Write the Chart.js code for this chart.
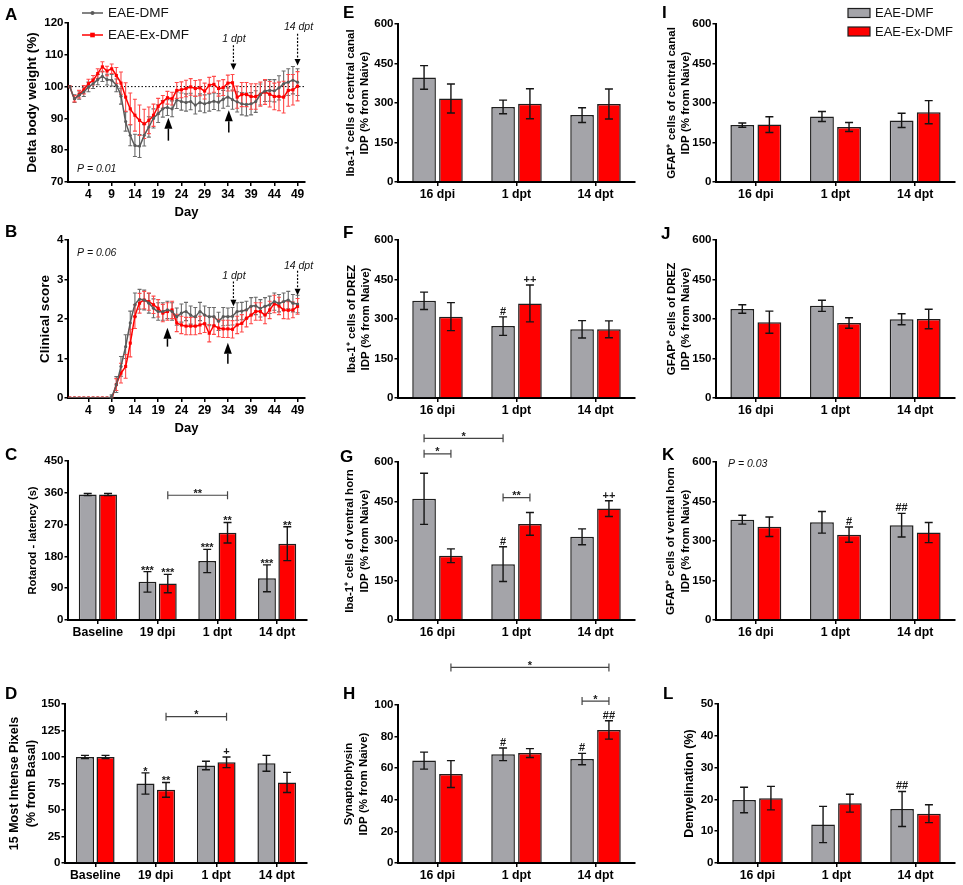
<!DOCTYPE html>
<html><head><meta charset="utf-8">
<script src="https://cdn.jsdelivr.net/npm/chart.js@4.4.1/dist/chart.umd.min.js"></script>
<style>
html,body{margin:0;padding:0;background:#fff;}
#wrap{position:relative;width:963px;height:885px;overflow:hidden;background:#fff;}
canvas{position:absolute;}
</style></head><body><div id="wrap"></div>
<script>
// ---------------- DATA ----------------
const days = [0,1,2,3,4,5,6,7,8,9,10,11,12,13,14,15,16,17,18,19,20,21,22,23,24,25,26,27,28,29,30,31,32,33,34,35,36,37,38,39,40,41,42,43,44,45,46,47,48,49];
const dayTicks = [4,9,14,19,24,29,34,39,44,49];
const seriesNames = ['EAE-DMF','EAE-Ex-DMF'];

const weightDMF = [100,96.2,97.3,98.3,99.9,100.9,102.2,103.2,102.2,102.0,100.4,97.0,89.0,84.7,81.5,81.3,84.7,87.3,90.0,91.5,93.0,93.4,93.0,95.7,95.3,95.0,95.3,94.2,95.0,94.6,95.0,95.4,95.1,96.0,96.7,95.9,95.2,94.6,94.4,94.6,95.3,97.5,98.6,98.8,98.7,99.6,100.9,101.4,102.0,101.4];
const weightDMFErr = [0,1.2,1.3,1.4,1.5,1.5,1.6,1.6,1.7,1.8,2.0,2.5,3.0,3.3,3.5,3.6,3.4,3.2,3.0,2.8,2.6,2.5,2.5,2.6,2.7,2.7,2.6,2.8,2.7,2.8,2.7,2.6,2.7,2.8,2.9,3.0,3.2,3.5,3.6,3.5,3.4,3.3,3.3,3.4,3.5,3.8,4.0,4.2,4.3,4.2];
const weightExDMF = [100,96.2,97.6,99.0,100.9,102.0,104.1,106.2,104.9,105.6,103.5,101.1,96.7,93.0,91.0,89.4,88.3,89.4,91.0,93.8,95.2,96.5,96.2,98.8,99.0,99.4,99.9,99.4,99.6,98.6,100.4,100.7,99.4,99.7,101.1,101.2,96.7,97.5,97.5,96.9,96.9,97.6,98.3,97.6,96.9,96.9,96.7,98.8,99.0,100.1];
const weightExDMFErr = [0,1.0,1.2,1.3,1.4,1.5,1.5,1.6,1.5,1.5,2.5,3.5,4.5,5.0,5.0,4.8,4.6,4.2,3.5,2.5,2.0,2.0,2.0,2.5,2.5,2.6,2.6,2.5,2.5,2.5,2.5,2.5,2.4,2.5,2.5,2.6,3.5,3.8,3.8,4.0,4.0,3.8,3.9,4.0,4.2,4.5,5.0,5.0,4.8,4.6];

const scoreDMF = [0,0,0,0,0,0,0,0,0,0.04,0.34,0.8,1.3,1.9,2.36,2.5,2.48,2.4,2.27,2.19,2.19,2.23,2.19,2.06,2.15,2.19,2.1,2.06,2.19,2.1,2.06,2.06,1.94,2.06,2.06,2.07,2.19,2.2,2.23,2.32,2.33,2.27,2.32,2.36,2.44,2.4,2.44,2.48,2.4,2.38];
const scoreDMFErr = [0,0,0,0,0,0,0,0,0,0.04,0.2,0.25,0.3,0.3,0.3,0.25,0.25,0.25,0.24,0.22,0.22,0.22,0.22,0.22,0.23,0.23,0.23,0.23,0.23,0.23,0.23,0.23,0.23,0.23,0.22,0.22,0.22,0.22,0.22,0.22,0.22,0.22,0.22,0.22,0.22,0.22,0.22,0.22,0.22,0.22];
const scoreExDMF = [0,0,0,0,0,0,0,0,0,0,0.34,0.63,0.8,1.39,2.06,2.4,2.48,2.44,2.36,2.27,2.15,2.19,2.23,1.9,1.85,1.82,1.82,1.82,1.85,1.88,1.64,1.83,1.77,1.75,1.75,1.74,1.85,1.89,2.02,2.1,2.19,2.19,2.1,2.23,2.38,2.33,2.23,2.22,2.23,2.32];
const scoreExDMFErr = [0,0,0,0,0,0,0,0,0,0,0.15,0.25,0.3,0.35,0.3,0.25,0.22,0.22,0.22,0.22,0.22,0.22,0.22,0.22,0.22,0.22,0.22,0.22,0.22,0.22,0.22,0.22,0.22,0.22,0.22,0.22,0.22,0.22,0.22,0.22,0.22,0.22,0.22,0.22,0.22,0.22,0.22,0.22,0.2,0.2];

const catsC = ['Baseline','19 dpi','1 dpt','14 dpt'];
const catsE = ['16 dpi','1 dpt','14 dpt'];

const rotarodDMF = [355,108,167,118];
const rotarodDMFErr = [3,29,33,38];
const rotarodExDMF = [355,103,247,216];
const rotarodExDMFErr = [3,26,29,48];

const pixelsDMF = [100,75,92,94];
const pixelsDMFErr = [1.5,10,4,7.5];
const pixelsExDMF = [100,69,95,76];
const pixelsExDMFErr = [1.5,7,5,9.5];

const ibaCanalDMF = [397,285,254];
const ibaCanalDMFErr = [45,26,28];
const ibaCanalExDMF = [317,297,296];
const ibaCanalExDMFErr = [55,57,57];

const ibaDrezDMF = [369,273,261];
const ibaDrezDMFErr = [33,35,33];
const ibaDrezExDMF = [309,359,261];
const ibaDrezExDMFErr = [53,70,32];

const ibaHornDMF = [460,212,316];
const ibaHornDMFErr = [97,66,30];
const ibaHornExDMF = [244,365,423];
const ibaHornExDMFErr = [26,43,30];

const synDMF = [64.8,68.8,65.8];
const synDMFErr = [5.4,4,3.6];
const synExDMF = [56.3,69.6,84.2];
const synExDMFErr = [8.5,2.8,5.8];

const gfapCanalDMF = [216,249,234];
const gfapCanalDMFErr = [8,19,27];
const gfapCanalExDMF = [218,209,265];
const gfapCanalExDMFErr = [30,17,44];

const gfapDrezDMF = [338,350,299];
const gfapDrezDMFErr = [16,21,21];
const gfapDrezExDMF = [288,285,300];
const gfapDrezExDMFErr = [42,20,37];

const gfapHornDMF = [381,371,360];
const gfapHornDMFErr = [17,41,45];
const gfapHornExDMF = [354,324,332];
const gfapHornExDMFErr = [37,29,38];

const demyDMF = [19.8,12.1,17];
const demyDMFErr = [4,5.7,5.5];
const demyExDMF = [20.4,18.8,15.5];
const demyExDMFErr = [3.7,2.8,2.8];

// significance marks: [category, series, text]
const sigC = [[1,0,'***'],[1,1,'***'],[2,0,'***'],[2,1,'**'],[3,0,'***'],[3,1,'**']];
const sigD = [[1,0,'*'],[1,1,'**'],[2,1,'+']];
const sigF = [[1,0,'#'],[1,1,'++']];
const sigG = [[1,0,'#'],[2,1,'++']];
const sigH = [[1,0,'#'],[2,0,'#'],[2,1,'##']];
const sigK = [[1,1,'#'],[2,0,'##']];
const sigL = [[2,0,'##']];
// comparison brackets: from [cat,series] to [cat,series] at value level
const bracketsC = [{from:[1,1],to:[2,1],level:353,text:'**'}];
const bracketsD = [{from:[1,1],to:[2,1],level:138,text:'*'}];
const bracketsG = [{from:[0,0],to:[1,0],level:690,text:'*'},{from:[0,0],to:[0,1],level:631,text:'*'},{from:[1,0],to:[1,1],level:465,text:'**'}];
const bracketsH = [{from:[0,1],to:[2,1],level:123.8,text:'*'},{from:[2,0],to:[2,1],level:102.5,text:'*'}];

// ---------------- STYLE ----------------
const FONT = '"Liberation Sans", Arial, Helvetica, sans-serif';
const GRAY_FILL = '#a4a4a9', RED_FILL = '#ff0000', EDGE = '#1e1e1e';
const GRAY_LINE = '#5a5a5a', RED_LINE = '#ff0000';
const EXTRAS = new WeakMap();

function fnt(style, size){ return style + ' ' + size + 'px ' + FONT; }

function drawArrow(ctx, x, yTail, yTip, dashed){
  const headLen = dashed ? 6.5 : 11, headW = dashed ? 6 : 8;
  const dir = yTip > yTail ? 1 : -1;
  ctx.save(); ctx.strokeStyle = '#000'; ctx.fillStyle = '#000';
  ctx.lineWidth = dashed ? 1.2 : 1.5;
  if (dashed) ctx.setLineDash([2, 1.6]);
  ctx.beginPath(); ctx.moveTo(x, yTail); ctx.lineTo(x, yTip - dir*headLen); ctx.stroke();
  ctx.setLineDash([]);
  ctx.beginPath(); ctx.moveTo(x, yTip); ctx.lineTo(x - headW/2, yTip - dir*headLen); ctx.lineTo(x + headW/2, yTip - dir*headLen); ctx.closePath(); ctx.fill();
  ctx.restore();
}

const extrasPlugin = {
  id: 'extras',
  beforeDatasetsDraw(chart){
    const s = EXTRAS.get(chart.canvas); if (!s) return;
    const ctx = chart.ctx, ys = chart.scales.y, ca = chart.chartArea;
    if (s.hline !== undefined){
      const y = ys.getPixelForValue(s.hline);
      ctx.save(); ctx.strokeStyle = '#000'; ctx.lineWidth = 1; ctx.setLineDash([1.5, 2]);
      ctx.beginPath(); ctx.moveTo(ca.left, y); ctx.lineTo(ca.right, y); ctx.stroke(); ctx.restore();
    }
    if (s.lineErr){
      s.lineErr.forEach((errs, di) => {
        const meta = chart.getDatasetMeta(di), ds = chart.data.datasets[di];
        ctx.save(); ctx.strokeStyle = s.lineErrColors[di]; ctx.lineWidth = 1.1;
        meta.data.forEach((pt, j) => {
          const v = ds.data[j].y, e = errs[j]; if (!e) return;
          const y1 = ys.getPixelForValue(v + e), y2 = ys.getPixelForValue(v - e);
          ctx.beginPath();
          ctx.moveTo(pt.x, y1); ctx.lineTo(pt.x, y2);
          ctx.moveTo(pt.x - 2, y1); ctx.lineTo(pt.x + 2, y1);
          ctx.moveTo(pt.x - 2, y2); ctx.lineTo(pt.x + 2, y2);
          ctx.stroke();
        });
        ctx.restore();
      });
    }
  },
  afterDatasetsDraw(chart){
    const s = EXTRAS.get(chart.canvas); if (!s) return;
    const ctx = chart.ctx, ys = chart.scales.y, xs = chart.scales.x;
    const px = v => v - s.cl, py = v => v - s.ct;
    const barX = (c, d) => chart.getDatasetMeta(d).data[c].x;
    const errTop = (c, d) => ys.getPixelForValue(chart.data.datasets[d].data[c] + s.barErr[d][c]);
    if (s.barErr){
      ctx.save(); ctx.strokeStyle = '#151515'; ctx.lineWidth = 1.4;
      s.barErr.forEach((errs, d) => {
        chart.getDatasetMeta(d).data.forEach((el, c) => {
          const v = chart.data.datasets[d].data[c], e = errs[c];
          const y1 = ys.getPixelForValue(v + e), y2 = ys.getPixelForValue(v - e);
          ctx.beginPath();
          ctx.moveTo(el.x, y1); ctx.lineTo(el.x, y2);
          ctx.moveTo(el.x - 4, y1); ctx.lineTo(el.x + 4, y1);
          ctx.moveTo(el.x - 4, y2); ctx.lineTo(el.x + 4, y2);
          ctx.stroke();
        });
      });
      ctx.restore();
    }
    ctx.save(); ctx.fillStyle = '#1a1a1a'; ctx.textAlign = 'center'; ctx.textBaseline = 'alphabetic';
    ctx.font = fnt('bold', 11);
    (s.sig || []).forEach(([c, d, t]) => {
      const yt = errTop(c, d);
      ctx.fillText(t, barX(c, d), t.includes('*') ? yt + 2 : yt - 2);
    });
    (s.brackets || []).forEach(b => {
      const x1 = barX(b.from[0], b.from[1]), x2 = barX(b.to[0], b.to[1]);
      const y = ys.getPixelForValue(b.level);
      ctx.save(); ctx.strokeStyle = '#444'; ctx.lineWidth = 1.2;
      ctx.beginPath(); ctx.moveTo(x1, y); ctx.lineTo(x2, y);
      ctx.moveTo(x1, y - 4); ctx.lineTo(x1, y + 4);
      ctx.moveTo(x2, y - 4); ctx.lineTo(x2, y + 4);
      ctx.stroke(); ctx.restore();
      ctx.fillText(b.text, (x1 + x2) / 2, y + 1.5);
    });
    ctx.restore();
    (s.arrows || []).forEach(a => {
      drawArrow(ctx, xs.getPixelForValue(a.x), ys.getPixelForValue(a.tail), ys.getPixelForValue(a.tip), a.dashed);
    });
    (s.texts || []).forEach(t => {
      ctx.save(); ctx.fillStyle = '#111'; ctx.font = fnt(t.style, t.size);
      ctx.textAlign = t.align || 'left'; ctx.textBaseline = 'middle';
      let x, y;
      if (t.data){ x = xs.getPixelForValue(t.x); y = ys.getPixelForValue(t.y); }
      else { x = px(t.x); y = py(t.y); }
      ctx.fillText(t.text, x, y); ctx.restore();
    });
    if (s.lineLegend){
      const L = s.lineLegend;
      chart.data.datasets.forEach((ds, i) => {
        const y = py(L.y[i]), x0 = px(L.x), x1 = x0 + 21, xm = (x0 + x1) / 2;
        ctx.save(); ctx.strokeStyle = ds.borderColor; ctx.fillStyle = ds.borderColor; ctx.lineWidth = 1.5;
        ctx.beginPath(); ctx.moveTo(x0, y); ctx.lineTo(x1, y); ctx.stroke();
        if (ds.pointStyle === 'rect') ctx.fillRect(xm - 2.3, y - 2.3, 4.6, 4.6);
        else { ctx.beginPath(); ctx.arc(xm, y, 2, 0, Math.PI * 2); ctx.fill(); }
        ctx.fillStyle = '#111'; ctx.font = fnt('', 13.5); ctx.textBaseline = 'middle'; ctx.textAlign = 'left';
        ctx.fillText(ds.label, x1 + 5, y + 0.5);
        ctx.restore();
      });
    }
    if (s.barLegend){
      const L = s.barLegend;
      chart.data.datasets.forEach((ds, i) => {
        const y = py(L.y[i]), x0 = px(L.x);
        ctx.save(); ctx.fillStyle = ds.backgroundColor; ctx.strokeStyle = EDGE; ctx.lineWidth = 1.2;
        ctx.fillRect(x0, y - 4.5, 22, 9); ctx.strokeRect(x0, y - 4.5, 22, 9);
        ctx.fillStyle = '#111'; ctx.font = fnt('', 13); ctx.textBaseline = 'middle'; ctx.textAlign = 'left';
        ctx.fillText(ds.label, x0 + 27, y + 0.5);
        ctx.restore();
      });
    }
    if (s.letter){
      ctx.save(); ctx.fillStyle = '#000'; ctx.font = fnt('bold', 17); ctx.textAlign = 'left'; ctx.textBaseline = 'alphabetic';
      ctx.fillText(s.letter[0], px(s.letter[1]), py(s.letter[2])); ctx.restore();
    }
  }
};
Chart.register(extrasPlugin);

const wrap = document.getElementById('wrap');

function yAxis(s){
  const lh = s.titleSize * s.titleLH;
  return {
    min: s.yMin, max: s.yMax,
    ticks: {stepSize: s.step, color: '#000', font: {family: FONT, size: 11.5, weight: 'bold'}, padding: 1},
    grid: {display: true, drawOnChartArea: false, drawTicks: true, tickLength: 3.5, color: '#000', lineWidth: 1.5},
    border: {display: true, color: '#000', width: 2},
    title: {display: true, text: s.title, color: '#000',
      font: {family: FONT, size: s.titleSize, weight: 'bold', lineHeight: s.titleLH},
      padding: {top: s.titleX - s.cl - lh / 2, bottom: 0}},
    afterFit: sc => { sc.width = s.plot.l - s.cl; }
  };
}

function mount(s, config){
  const c = document.createElement('canvas');
  c.width = s.cr - s.cl; c.height = s.plot.b - s.ct + s.xh;
  c.style.left = s.cl + 'px'; c.style.top = s.ct + 'px';
  wrap.appendChild(c);
  EXTRAS.set(c, s);
  config.options.responsive = false;
  config.options.animation = false;
  config.options.layout = {padding: {left: 0, top: s.plot.t - s.ct, right: s.cr - s.plot.r, bottom: 0}};
  config.options.plugins = {legend: {display: false}, tooltip: {enabled: false}};
  new Chart(c, config);
}

function linePanel(s){
  const mk = (vals) => days.map((d, i) => ({x: d, y: vals[i]}));
  mount(s, {
    type: 'line',
    data: {datasets: [
      {label: seriesNames[0], data: mk(s.gray), borderColor: GRAY_LINE, backgroundColor: GRAY_LINE, borderWidth: 1.5,
       pointRadius: 1.6, pointStyle: 'circle', pointBackgroundColor: GRAY_LINE, pointBorderWidth: 0, tension: 0.15},
      {label: seriesNames[1], data: mk(s.red), borderColor: RED_LINE, backgroundColor: RED_LINE, borderWidth: 1.5,
       pointRadius: 2.2, pointStyle: 'rect', pointBackgroundColor: RED_LINE, pointBorderWidth: 0, tension: 0.15}
    ]},
    options: {
      scales: {
        x: {type: 'linear', min: -0.4, max: 50.6,
          afterBuildTicks: sc => { sc.ticks = dayTicks.map(v => ({value: v})); },
          ticks: {color: '#000', font: {family: FONT, size: 12, weight: 'bold'}, padding: 1, autoSkip: false, maxRotation: 0},
          grid: {display: true, drawOnChartArea: false, tickLength: 4, color: '#000', lineWidth: 1.5},
          border: {display: true, color: '#000', width: 2},
          title: {display: true, text: 'Day', color: '#000', font: {family: FONT, size: 13, weight: 'bold', lineHeight: 1.2}, padding: {top: 0, bottom: 0}},
          afterFit: sc => { sc.height = s.xh; }
        },
        y: yAxis(s)
      }
    }
  });
}

function barPanel(s){
  mount(s, {
    type: 'bar',
    data: {labels: s.cats, datasets: [
      {label: seriesNames[0], data: s.gray, backgroundColor: GRAY_FILL, borderColor: EDGE, borderWidth: 1.5, categoryPercentage: 0.68, barPercentage: 0.88},
      {label: seriesNames[1], data: s.red, backgroundColor: RED_FILL, borderColor: EDGE, borderWidth: 1.5, categoryPercentage: 0.68, barPercentage: 0.88}
    ]},
    options: {
      scales: {
        x: {type: 'category', offset: true,
          ticks: {color: '#000', font: {family: FONT, size: 12.3, weight: 'bold'}, padding: 1, autoSkip: false, maxRotation: 0},
          grid: {display: true, drawOnChartArea: false, offset: false, tickLength: 4, color: '#000', lineWidth: 1.5},
          border: {display: true, color: '#000', width: 2},
          afterFit: sc => { sc.height = s.xh; }
        },
        y: yAxis(s)
      }
    }
  });
}

const IDP = 'IDP (% from Naive)';

// A
linePanel({cl: 0, ct: 0, cr: 320, plot: {l: 68, t: 23, r: 305, b: 182}, xh: 38,
  yMin: 70, yMax: 120, step: 10, title: 'Delta body weight (%)', titleSize: 13.5, titleLH: 1.25, titleX: 32,
  gray: weightDMF, red: weightExDMF,
  lineErr: [weightDMFErr, weightExDMFErr], lineErrColors: ['#6a6a6a', '#ff4a4a'],
  hline: 100,
  arrows: [{x: 21.2, tail: 83, tip: 90.2}, {x: 34.2, tail: 85.6, tip: 92.6},
           {x: 35.2, tail: 113, tip: 105.2, dashed: true}, {x: 49, tail: 116.6, tip: 106.6, dashed: true}],
  texts: [{data: true, x: 35.3, y: 114.9, text: '1 dpt', style: 'italic', size: 10.5, align: 'center'},
          {data: true, x: 49.2, y: 118.8, text: '14 dpt', style: 'italic', size: 10.5, align: 'center'},
          {x: 77, y: 169, text: 'P = 0.01', style: 'italic', size: 10.5}],
  lineLegend: {x: 82, y: [13, 35]},
  letter: ['A', 5, 20]});

// B
linePanel({cl: 0, ct: 220, cr: 320, plot: {l: 68, t: 240, r: 305, b: 398}, xh: 38,
  yMin: 0, yMax: 4, step: 1, title: 'Clinical score', titleSize: 13.5, titleLH: 1.25, titleX: 45,
  gray: scoreDMF, red: scoreExDMF,
  lineErr: [scoreDMFErr, scoreExDMFErr], lineErrColors: ['#6a6a6a', '#ff4a4a'],
  arrows: [{x: 21, tail: 1.3, tip: 1.78}, {x: 34, tail: 0.87, tip: 1.4},
           {x: 35.2, tail: 2.95, tip: 2.32, dashed: true}, {x: 49, tail: 3.22, tip: 2.6, dashed: true}],
  texts: [{data: true, x: 35.3, y: 3.09, text: '1 dpt', style: 'italic', size: 10.5, align: 'center'},
          {data: true, x: 49.2, y: 3.33, text: '14 dpt', style: 'italic', size: 10.5, align: 'center'},
          {x: 77, y: 253, text: 'P = 0.06', style: 'italic', size: 10.5}],
  letter: ['B', 5, 237]});

// C
barPanel({cl: 0, ct: 436, cr: 320, plot: {l: 68, t: 461, r: 307, b: 620}, xh: 22,
  yMin: 0, yMax: 450, step: 90, title: 'Rotarod - latency (s)', titleSize: 11.2, titleLH: 1.25, titleX: 33,
  cats: catsC, gray: rotarodDMF, red: rotarodExDMF, barErr: [rotarodDMFErr, rotarodExDMFErr],
  sig: sigC, brackets: bracketsC, letter: ['C', 5, 460]});

// D
barPanel({cl: 0, ct: 642, cr: 320, plot: {l: 65, t: 704, r: 307, b: 863}, xh: 22,
  yMin: 0, yMax: 150, step: 25, title: ['15 Most Intense Pixels', '(% from Basal)'], titleSize: 12.5, titleLH: 1.36, titleX: 15,
  cats: catsC, gray: pixelsDMF, red: pixelsExDMF, barErr: [pixelsDMFErr, pixelsExDMFErr],
  sig: sigD, brackets: bracketsD, letter: ['D', 5, 699]});

// E
barPanel({cl: 322, ct: 0, cr: 642, plot: {l: 398, t: 24, r: 635, b: 182}, xh: 22,
  yMin: 0, yMax: 600, step: 150, title: ['Iba-1\u207A cells of central canal', IDP], titleSize: 11.5, titleLH: 1.25, titleX: 350.7,
  cats: catsE, gray: ibaCanalDMF, red: ibaCanalExDMF, barErr: [ibaCanalDMFErr, ibaCanalExDMFErr],
  letter: ['E', 343, 18]});

// F
barPanel({cl: 322, ct: 204, cr: 642, plot: {l: 398, t: 240, r: 635, b: 398}, xh: 22,
  yMin: 0, yMax: 600, step: 150, title: ['Iba-1\u207A cells of DREZ', IDP], titleSize: 11.5, titleLH: 1.25, titleX: 351.7,
  cats: catsE, gray: ibaDrezDMF, red: ibaDrezExDMF, barErr: [ibaDrezDMFErr, ibaDrezExDMFErr],
  sig: sigF, letter: ['F', 343, 238]});

// G
barPanel({cl: 322, ct: 420, cr: 642, plot: {l: 398, t: 462, r: 635, b: 620}, xh: 22,
  yMin: 0, yMax: 600, step: 150, title: ['Iba-1\u207A cells of ventral horn', IDP], titleSize: 11.5, titleLH: 1.25, titleX: 350,
  cats: catsE, gray: ibaHornDMF, red: ibaHornExDMF, barErr: [ibaHornDMFErr, ibaHornExDMFErr],
  sig: sigG, brackets: bracketsG, letter: ['G', 340, 462]});

// H
barPanel({cl: 322, ct: 642, cr: 642, plot: {l: 398, t: 705, r: 635, b: 863}, xh: 22,
  yMin: 0, yMax: 100, step: 20, title: ['Synaptophysin', IDP], titleSize: 11.5, titleLH: 1.25, titleX: 349,
  cats: catsE, gray: synDMF, red: synExDMF, barErr: [synDMFErr, synExDMFErr],
  sig: sigH, brackets: bracketsH, letter: ['H', 343, 699]});

// I
barPanel({cl: 642, ct: 0, cr: 963, plot: {l: 716, t: 24, r: 955, b: 182}, xh: 22,
  yMin: 0, yMax: 600, step: 150, title: ['GFAP\u207A cells of central canal', IDP], titleSize: 11.5, titleLH: 1.25, titleX: 671.5,
  cats: catsE, gray: gfapCanalDMF, red: gfapCanalExDMF, barErr: [gfapCanalDMFErr, gfapCanalExDMFErr],
  barLegend: {x: 848, y: [13, 31.5]}, letter: ['I', 662, 18]});

// J
barPanel({cl: 642, ct: 204, cr: 963, plot: {l: 716, t: 240, r: 955, b: 398}, xh: 22,
  yMin: 0, yMax: 600, step: 150, title: ['GFAP\u207A cells of DREZ', IDP], titleSize: 11.5, titleLH: 1.25, titleX: 671.5,
  cats: catsE, gray: gfapDrezDMF, red: gfapDrezExDMF, barErr: [gfapDrezDMFErr, gfapDrezExDMFErr],
  letter: ['J', 661, 239]});

// K
barPanel({cl: 642, ct: 420, cr: 963, plot: {l: 716, t: 462, r: 955, b: 620}, xh: 22,
  yMin: 0, yMax: 600, step: 150, title: ['GFAP\u207A cells of ventral horn', IDP], titleSize: 11.5, titleLH: 1.25, titleX: 671,
  cats: catsE, gray: gfapHornDMF, red: gfapHornExDMF, barErr: [gfapHornDMFErr, gfapHornExDMFErr],
  sig: sigK, texts: [{x: 728, y: 464, text: 'P = 0.03', style: 'italic', size: 10.5}],
  letter: ['K', 662, 460]});

// L
barPanel({cl: 642, ct: 642, cr: 963, plot: {l: 718, t: 704, r: 955, b: 863}, xh: 22,
  yMin: 0, yMax: 50, step: 10, title: 'Demyelination (%)', titleSize: 12.5, titleLH: 1.2, titleX: 690,
  cats: catsE, gray: demyDMF, red: demyExDMF, barErr: [demyDMFErr, demyExDMFErr],
  sig: sigL, letter: ['L', 663, 699]});
</script></body></html>
